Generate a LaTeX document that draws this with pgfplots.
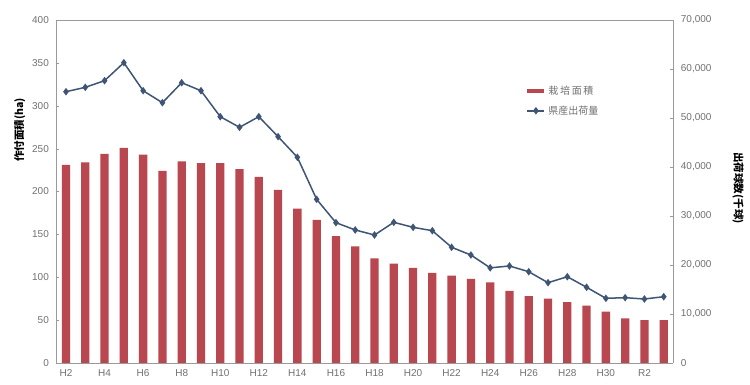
\documentclass[border=0pt]{standalone}
\usepackage{pgfplots}
\pgfplotsset{compat=1.18}
\usepackage{fontspec}
\setmainfont{Liberation Sans}
\newfontfamily\jp{Noto Sans CJK JP}
\definecolor{barred}{HTML}{B8474F}
\definecolor{lineblue}{HTML}{3E5574}
\definecolor{tickgray}{HTML}{707070}
\definecolor{axgray}{HTML}{9A9A9A}
\begin{document}
\begin{tikzpicture}[x=1pt,y=1pt]
\begin{axis}[
  at={(0pt,0pt)}, anchor=origin,
  scale only axis, width=617pt, height=343pt,
  xmin=-0.5, xmax=31.5, ymin=0, ymax=400,
  axis y line*=left, axis x line*=bottom,
  ytick={0,50,...,400},
  xtick={0,2,...,30},
  xticklabels={H2,H4,H6,H8,H10,H12,H14,H16,H18,H20,H22,H24,H26,H28,H30,R2},
  tick style={axgray}, axis line style={axgray},
  major tick length=3pt,
  ticklabel style={font=\fontsize{10}{12}\selectfont, text=tickgray},
  xticklabel style={yshift=-3pt},
  yticklabel style={xshift=-4pt},
  /pgf/number format/assume math mode=true,
  ylabel={\jp 作付面積(ha)},
  ylabel style={font=\jp\fontsize{10.5}{12}\selectfont\bfseries, at={(ticklabel cs:0.68)}},
  clip=false,
]
\addplot[ybar, bar width=8.3pt, fill=barred, draw=none] coordinates {
(0,231) (1,234) (2,244) (3,251) (4,243) (5,224) (6,235) (7,233) (8,233) (9,226)
(10,217) (11,202) (12,180) (13,167) (14,148) (15,136) (16,122) (17,116) (18,111) (19,105)
(20,102) (21,98) (22,94) (23,84) (24,78) (25,75) (26,71) (27,67) (28,60) (29,52)
(30,50) (31,50)};
\draw[axgray] (axis cs:-0.5,400) -- (axis cs:31.5,400);
\end{axis}
\begin{axis}[
  at={(0pt,0pt)}, anchor=origin,
  scale only axis, width=617pt, height=343pt,
  xmin=-0.5, xmax=31.5, ymin=0, ymax=70000,
  axis y line*=right, axis x line=none,
  ytick={0,10000,...,70000},
  scaled y ticks=false,
  tick style={axgray}, axis line style={axgray},
  major tick length=3pt,
  ticklabel style={font=\fontsize{10}{12}\selectfont, text=tickgray},
  yticklabel style={xshift=4pt, /pgf/number format/.cd, 1000 sep={,}, fixed},
  /pgf/number format/assume math mode=true,
  ylabel={\jp 出荷球数(千球)},
  ylabel shift=14pt,
  ylabel style={font=\jp\fontsize{10.5}{12}\selectfont\bfseries, rotate=180, at={(ticklabel cs:0.51)}},
  legend style={draw=none, fill=none, at={(0.755,0.82)}, anchor=north west,
    font=\jp\fontsize{10}{12}\selectfont, text=tickgray, row sep=6pt},
  legend cell align=left,
  clip=false,
]
\addlegendimage{line legend, line width=4pt, color=barred}
\addlegendentry{栽\,培\,面\,積}
\addplot[lineblue, line width=1.5pt, mark=diamond*, mark size=2.6pt, mark options={fill=lineblue}] coordinates {
(0,55370) (1,56260) (2,57620) (3,61290) (4,55570) (5,53120) (6,57200) (7,55570) (8,50270) (9,48100)
(10,50270) (11,46190) (12,41980) (13,33400) (14,28640) (15,27150) (16,26120) (17,28710) (18,27690) (19,27000)
(20,23610) (21,22040) (22,19420) (23,19800) (24,18630) (25,16390) (26,17610) (27,15450) (28,13200) (29,13330)
(30,13060) (31,13530)};
\addlegendentry{県産出荷量}
\end{axis}
\pgfresetboundingbox
\path[use as bounding box] (-66pt,-22pt) rectangle (684pt,363pt);
\end{tikzpicture}
\end{document}
